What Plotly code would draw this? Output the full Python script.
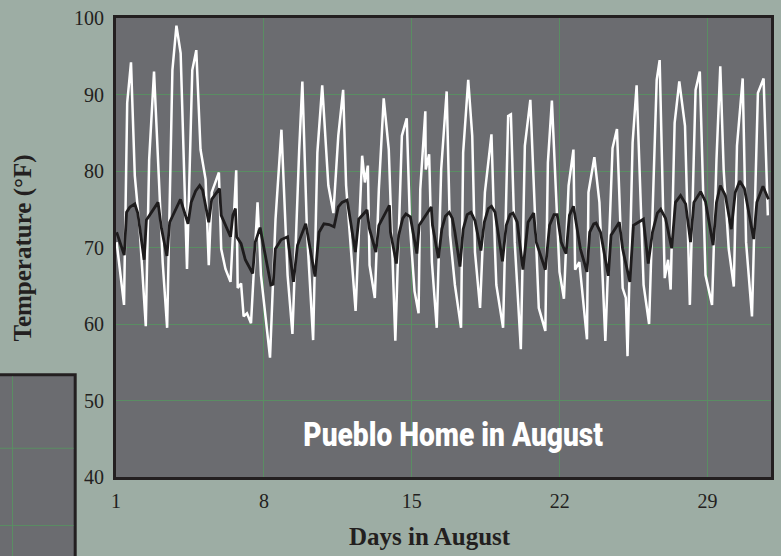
import plotly.graph_objects as go

# ---- data (day of August as fractional day, temperature °F) ----
outdoor_day = [1.03, 1.38, 1.53, 1.71, 1.89, 2.13, 2.41, 2.57, 2.80, 3.03, 3.21, 3.42,
               3.67, 3.86, 4.06, 4.36, 4.61, 4.80, 5.00, 5.24, 5.39, 5.53, 5.87, 5.98,
               6.18, 6.42, 6.69, 6.76, 6.92, 7.04, 7.20, 7.39, 7.70, 7.86, 8.29, 8.55,
               8.83, 9.12, 9.35, 9.67, 9.82, 10.04, 10.33, 10.53, 10.76, 11.05, 11.29, 11.52,
               11.75, 11.89, 12.34, 12.65, 12.78, 12.92, 13.00, 13.25, 13.44, 13.67, 13.91, 14.22,
               14.53, 14.76, 14.92, 15.13, 15.32, 15.40, 15.64, 15.66, 15.82, 15.95, 16.18, 16.39,
               16.65, 16.81, 17.04, 17.33, 17.43, 17.67, 17.86, 17.99, 18.23, 18.46, 18.77, 18.93,
               19.00, 19.32, 19.56, 19.69, 19.87, 20.16, 20.35, 20.61, 20.85, 21.01, 21.32, 21.44,
               21.63, 21.91, 21.99, 22.20, 22.42, 22.65, 22.73, 22.93, 23.29, 23.36, 23.64, 23.88,
               24.16, 24.50, 24.71, 24.98, 25.13, 25.21, 25.45, 25.64, 25.97, 26.23, 26.59, 26.73,
               26.97, 27.13, 27.25, 27.44, 27.66, 27.93, 28.16, 28.43, 28.63, 28.90, 29.21, 29.42,
               29.60, 29.76, 30.00, 30.24, 30.39, 30.66, 30.82, 31.10, 31.38, 31.65, 31.85]
outdoor_temp = [70.7, 62.5, 88.9, 94.2, 79.4, 72.0, 59.7, 81.5, 93.0, 80.0, 68.0, 59.5,
                93.2, 99.0, 95.4, 67.2, 93.2, 95.8, 82.8, 78.9, 67.7, 77.2, 79.8, 69.8,
                67.2, 65.5, 80.1, 64.7, 65.3, 61.0, 61.4, 60.1, 75.9, 66.4, 55.6, 73.7,
                85.4, 66.4, 58.7, 82.8, 91.7, 72.0, 57.9, 82.4, 91.2, 78.1, 74.5, 84.6,
                90.6, 78.1, 61.7, 82.0, 78.5, 80.7, 67.7, 63.4, 77.6, 89.5, 82.8, 57.8,
                84.6, 86.9, 72.5, 64.3, 61.4, 77.6, 87.8, 80.2, 82.2, 68.1, 59.5, 80.2,
                90.4, 71.6, 65.1, 59.5, 82.4, 91.9, 84.6, 69.4, 62.1, 77.2, 84.8, 70.3,
                65.1, 59.5, 87.2, 87.4, 70.7, 56.7, 83.3, 89.3, 71.6, 62.1, 59.1, 81.1,
                89.2, 73.3, 66.8, 63.3, 78.1, 82.8, 67.1, 68.1, 58.0, 77.2, 81.8, 75.9,
                57.8, 83.0, 85.5, 64.7, 63.4, 55.8, 83.7, 91.2, 65.1, 60.0, 91.9, 94.5,
                66.0, 68.4, 64.5, 86.3, 91.7, 85.9, 62.5, 90.6, 93.0, 66.4, 62.5, 81.5,
                93.7, 80.2, 69.8, 64.9, 83.3, 92.1, 70.7, 61.0, 90.2, 92.1, 74.2]

indoor_day = [1.03, 1.39, 1.50, 1.66, 1.89, 2.03, 2.33, 2.44, 2.99, 3.15, 3.41, 3.54,
              4.05, 4.41, 4.56, 4.77, 4.96, 5.10, 5.39, 5.53, 5.90, 5.98, 6.42, 6.53,
              6.65, 6.71, 6.92, 7.12, 7.47, 7.59, 7.82, 8.02, 8.33, 8.44, 8.54, 8.81,
              9.12, 9.40, 9.59, 9.98, 10.42, 10.61, 10.84, 11.08, 11.32, 11.52, 11.70, 11.94,
              12.33, 12.49, 12.88, 12.99, 13.30, 13.44, 13.94, 13.99, 14.27, 14.38, 14.57, 14.72,
              14.93, 15.24, 15.35, 15.92, 15.98, 16.26, 16.42, 16.59, 16.77, 16.92, 17.04, 17.28,
              17.43, 17.62, 17.80, 17.99, 18.27, 18.43, 18.62, 18.77, 18.94, 19.00, 19.29, 19.47,
              19.65, 19.79, 19.99, 20.26, 20.50, 20.77, 20.89, 21.32, 21.52, 21.73, 21.88, 22.07,
              22.30, 22.46, 22.65, 22.98, 23.29, 23.42, 23.61, 23.72, 23.93, 24.30, 24.43, 24.82,
              24.98, 25.32, 25.49, 25.96, 26.19, 26.39, 26.62, 26.78, 27.01, 27.30, 27.48, 27.72,
              27.96, 28.19, 28.35, 28.67, 28.90, 29.26, 29.42, 29.60, 29.84, 30.12, 30.31, 30.52,
              30.74, 31.18, 31.33, 31.62, 31.88]
indoor_temp = [72.0, 69.0, 74.6, 75.3, 75.7, 74.5, 68.4, 73.6, 75.9, 72.5, 68.9, 73.3,
               76.3, 73.1, 75.9, 77.4, 78.1, 77.5, 73.3, 76.3, 77.7, 74.2, 71.4, 74.2,
               75.1, 71.4, 70.5, 68.4, 66.6, 70.7, 72.6, 69.7, 65.1, 65.2, 69.8, 71.0,
               71.4, 65.5, 70.3, 73.1, 66.2, 72.0, 73.1, 73.0, 72.7, 75.3, 75.9, 76.2,
               69.4, 73.7, 74.9, 72.5, 69.4, 72.9, 75.5, 72.0, 67.9, 71.6, 73.8, 74.4,
               74.0, 69.2, 72.9, 75.3, 72.9, 68.6, 72.4, 74.1, 74.6, 73.8, 72.0, 67.5,
               72.4, 74.3, 74.6, 73.5, 69.6, 73.3, 75.1, 75.4, 74.6, 73.5, 68.2, 72.9,
               74.3, 74.5, 73.3, 67.1, 73.3, 74.5, 70.7, 67.1, 72.9, 74.3, 74.3, 70.7,
               69.2, 74.2, 75.4, 69.8, 66.8, 72.0, 73.1, 73.2, 72.0, 66.3, 71.6, 73.3,
               69.8, 65.5, 72.9, 73.7, 67.9, 72.0, 74.5, 75.0, 73.8, 69.9, 75.9, 76.8,
               75.7, 70.7, 75.9, 77.3, 76.0, 70.3, 75.9, 78.1, 76.8, 72.4, 77.2, 78.7,
               77.7, 71.1, 75.9, 78.0, 76.3]

x_ticks = [1, 8, 15, 22, 29]
y_ticks = [40, 50, 60, 70, 80, 90, 100]
chart_label = "Pueblo Home in August"

PAPER = "#9dada4"
PLOT = "#6b6c70"
GRID = "#5a8d63"
BORDER = "#231f20"
SERIF = "Liberation Serif, DejaVu Serif, serif"

fig = go.Figure()
fig.add_trace(go.Scatter(x=outdoor_day, y=outdoor_temp, mode="lines",
                         line=dict(color="white", width=2.5), showlegend=False,
                         hoverinfo="skip"))
fig.add_trace(go.Scatter(x=indoor_day, y=indoor_temp, mode="lines",
                         line=dict(color="#1e1c1d", width=2.8), showlegend=False,
                         hoverinfo="skip"))

# decorative partial panel at bottom-left (from adjacent graphic)
shapes = [
    dict(type="rect", xref="paper", yref="paper", x0=-0.2, x1=-0.0623, y0=-0.2, y1=0.2225,
         fillcolor=PLOT, line=dict(color=BORDER, width=3), layer="below"),
    dict(type="line", xref="paper", yref="paper", x0=-0.158, x1=-0.158, y0=-0.2, y1=0.219,
         line=dict(color=GRID, width=1)),
    dict(type="line", xref="paper", yref="paper", x0=-0.2, x1=-0.065, y0=0.0626, y1=0.0626,
         line=dict(color=GRID, width=1)),
    dict(type="line", xref="paper", yref="paper", x0=-0.2, x1=-0.065, y0=-0.1058, y1=-0.1058,
         line=dict(color=GRID, width=1)),
]

fig.update_layout(
    width=781, height=556, autosize=False,
    margin=dict(l=116, r=7, t=14, b=79, pad=0),
    paper_bgcolor=PAPER, plot_bgcolor=PLOT,
    shapes=shapes,
    xaxis=dict(range=[1, 32], tickvals=x_ticks, ticktext=[str(v) for v in x_ticks],
               showgrid=True, gridcolor=GRID, gridwidth=1, zeroline=False,
               showline=True, linecolor=BORDER, linewidth=3, mirror=True,
               ticks="outside", ticklen=4, tickcolor="rgba(0,0,0,0)",
               tickfont=dict(family=SERIF, size=20, color="#231f20")),
    yaxis=dict(range=[40, 100], tickvals=y_ticks, ticktext=[str(v) for v in y_ticks],
               showgrid=True, gridcolor=GRID, gridwidth=1, zeroline=False,
               showline=True, linecolor=BORDER, linewidth=3, mirror=True,
               ticks="outside", ticklen=5, tickcolor="rgba(0,0,0,0)",
               tickfont=dict(family=SERIF, size=20, color="#231f20")),
    annotations=[
        dict(text=chart_label, xref="paper", yref="paper",
             x=0.515, y=0.093, xanchor="center", yanchor="middle", showarrow=False,
             font=dict(family="Roboto, Inter, sans-serif", size=34, weight=900, color="white")),
        dict(text="<b>Days in August</b>", xref="paper", yref="paper",
             x=0.48, y=-0.13, xanchor="center", yanchor="middle", showarrow=False,
             font=dict(family=SERIF, size=25, color="#231f20")),
        dict(text="<b>Temperature (°F)</b>", xref="paper", yref="paper",
             x=-0.142, y=0.5, xanchor="center", yanchor="middle", showarrow=False,
             textangle=-90, font=dict(family=SERIF, size=25, color="#231f20")),
    ],
)

post = """
document.body.style.margin='0';
document.body.style.background='#9dada4';
document.querySelectorAll('text.annotation-text').forEach(function(t){
  if (t.textContent === '%s') {
    var b = t.getBBox();
    var cx = b.x + b.width / 2;
    var s = 300 / b.width;
    var old = t.getAttribute('transform') || '';
    t.setAttribute('transform', old + ' translate(' + cx + ',0) scale(' + s + ',1) translate(' + (-cx) + ',0)');
  }
});
""" % chart_label

fig.write_html("out.html", post_script=post, config={"displayModeBar": False})
